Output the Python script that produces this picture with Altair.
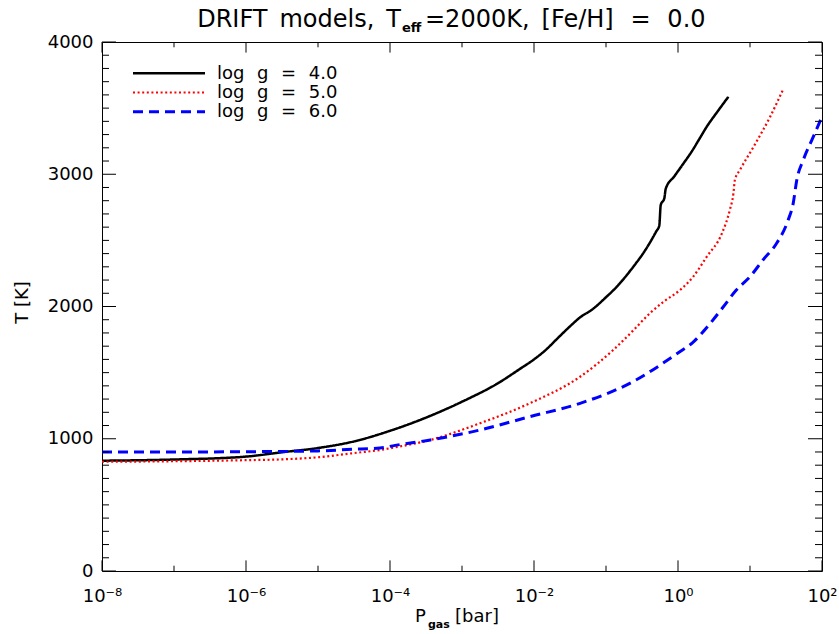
import altair as alt
import pandas as pd

# ---------------- data ----------------
# log10(P_gas / bar) and temperature T [K] for each model
logp_g4 = [-8.0, -7.0, -6.0, -5.5, -5.0, -4.5, -4.0, -3.5, -3.0, -2.5, -2.19, -2.0,
           -1.82, -1.69, -1.5, -1.36, -1.2, -1.0, -0.85, -0.62, -0.45, -0.3, -0.26,
           -0.24, -0.19, -0.17, -0.05, 0.07, 0.2, 0.3, 0.4, 0.55, 0.70]
t_g4 = [834, 843, 865, 898, 930, 980, 1060, 1160, 1280, 1420, 1530, 1600,
        1680, 1750, 1850, 1918, 1974, 2070, 2150, 2301, 2430, 2570, 2611,
        2767, 2818, 2891, 2985, 3077, 3180, 3270, 3360, 3475, 3586]

logp_g5 = [-8.0, -7.0, -6.0, -5.46, -5.0, -4.53, -4.14, -3.93, -3.44, -2.75, -2.06, -1.36,
           -0.90, -0.62, -0.39, -0.20, 0.03, 0.21, 0.40, 0.61, 0.72, 0.77, 0.79,
           0.86, 1.05, 1.28, 1.46]
t_g5 = [826, 830, 838, 845, 860, 890, 915, 935, 991, 1117, 1268, 1469,
        1671, 1820, 1949, 2036, 2125, 2225, 2377, 2553, 2730, 2856, 2957,
        3032, 3208, 3435, 3642]

logp_g6 = [-8.0, -7.0, -6.0, -5.0, -4.53, -4.14, -3.93, -3.44, -2.75, -2.06, -1.36, -0.67,
           0.03, 0.2, 0.35, 0.63, 0.81, 1.00, 1.18, 1.37, 1.53, 1.60, 1.65, 1.74, 1.88, 2.00]
t_g6 = [900, 900, 902, 908, 920, 930, 950, 991, 1066, 1167, 1268, 1419,
        1660, 1725, 1810, 1998, 2125, 2225, 2352, 2478, 2654, 2780, 2957, 3108, 3284, 3435]

sp = "\u2002\u2009"
series_labels = [f"log{sp}g{sp}={sp}4.0", f"log{sp}g{sp}={sp}5.0", f"log{sp}g{sp}={sp}6.0"]
series_colors = ["#000000", "#ff0000", "#0000ff"]
series_dash = [[1, 0], [2, 2.6], [10, 6]]
series_width = [2.5, 2.2, 3.0]
series_interp = ["monotone", "monotone", "monotone"]

y_major = [0, 1000, 2000, 3000, 4000]
y_minor = [v for v in range(0, 4001, 100) if v % 1000]
x_major_exp = [-8, -6, -4, -2, 0, 2]
x_minor_exp = [-7, -5, -3, -1, 1]

title_main = "DRIFT\u2002models,\u2002T"
title_sub = "eff"
title_rest = f"=2000K,\u2002[Fe/H]{sp}={sp}0.0"
xtitle_main = "P"
xtitle_sub = "gas"
xtitle_rest = "[bar]"
ytitle = "T [K]"

# ---------------- layout ----------------
W, H = 720, 529
FONT = "DejaVu Sans"

xscale = alt.Scale(type="log", domain=[1e-8, 1e2], nice=False)
yscale = alt.Scale(domain=[0, 4000], nice=False, zero=False)

sup = {"-": "\u207b", "0": "\u2070", "1": "\u00b9", "2": "\u00b2", "3": "\u00b3",
       "4": "\u2074", "5": "\u2075", "6": "\u2076", "7": "\u2077", "8": "\u2078", "9": "\u2079"}


def sup_text(e):
    return "10" + "".join(sup[c] for c in str(e))


expr = "'" + sup_text(x_major_exp[-1]) + "'"
for e in reversed(x_major_exp[:-1]):
    expr = f"datum.value < {10.0 ** (e + 1)} ? '{sup_text(e)}' : " + expr

xaxis = alt.Axis(values=[10.0 ** e for e in x_major_exp], labelExpr=expr, ticks=False,
                 domain=False, grid=False, labelFont=FONT, labelFontSize=18,
                 labelColor="black", labelPadding=16, title=None, labelFlush=False,
                 labelOverlap=False)
yaxis = alt.Axis(values=y_major, ticks=False, domain=False, grid=False, labelFont=FONT,
                 labelFontSize=18, labelColor="black", labelPadding=9, title=None,
                 format="d")


def X(field):
    return alt.X(field, scale=xscale, axis=xaxis)


def Y(field):
    return alt.Y(field, scale=yscale, axis=yaxis)


def curve_df(lp, t, lab):
    return pd.DataFrame({"P": [10.0 ** v for v in lp], "T": t, "series": lab})


layers = []
curves = [(logp_g4, t_g4), (logp_g5, t_g5), (logp_g6, t_g6)]
for i, (lp, t) in enumerate(curves):
    df = curve_df(lp, t, series_labels[i])
    layers.append(
        alt.Chart(df).mark_line(color=series_colors[i], strokeWidth=series_width[i],
                                strokeDash=series_dash[i], clip=True,
                                interpolate=series_interp[i]).encode(x=X("P:Q"), y=Y("T:Q"))
    )

# inward ticks on all four sides
YMAJ, YMIN = 14, 7
XMAJ, XMIN = 10.6, 5.3
ymaj_df = pd.DataFrame({"v": y_major})
ymin_df = pd.DataFrame({"v": y_minor})
xmaj_df = pd.DataFrame({"P": [10.0 ** e for e in x_major_exp]})
xmin_df = pd.DataFrame({"P": [10.0 ** e for e in x_minor_exp]})
for df, ln in [(ymaj_df, YMAJ), (ymin_df, YMIN)]:
    layers.append(alt.Chart(df).mark_rule(color="black", strokeWidth=1).encode(
        y=Y("v:Q"), x=alt.value(0), x2=alt.value(ln)))
    layers.append(alt.Chart(df).mark_rule(color="black", strokeWidth=1).encode(
        y=Y("v:Q"), x=alt.value(W - ln), x2=alt.value(W)))
for df, ln in [(xmaj_df, XMAJ), (xmin_df, XMIN)]:
    layers.append(alt.Chart(df).mark_rule(color="black", strokeWidth=1).encode(
        x=X("P:Q"), y=alt.value(H), y2=alt.value(H - ln)))
    layers.append(alt.Chart(df).mark_rule(color="black", strokeWidth=1).encode(
        x=X("P:Q"), y=alt.value(0), y2=alt.value(ln)))

# legend
for i, lab in enumerate(series_labels):
    ldf = pd.DataFrame({"label": [lab]})
    layers.append(alt.Chart(ldf).mark_rule(color=series_colors[i], strokeWidth=series_width[i],
                                           strokeDash=series_dash[i]).encode(
        x=alt.value(31), x2=alt.value(103), y=alt.value(31.3 + 19.2 * i)))
    layers.append(alt.Chart(ldf).mark_text(align="left", baseline="alphabetic", font=FONT,
                                           fontSize=18, color="black").encode(
        x=alt.value(115), y=alt.value(37 + 19.2 * i), text="label:N"))


def txt(s, x, y, size, align="left", angle=0, weight="normal"):
    d = pd.DataFrame({"s": [s]})
    kw = dict(align=align, baseline="alphabetic", font=FONT, fontSize=size, color="black",
              fontWeight=weight)
    if angle:
        kw["angle"] = angle
    return alt.Chart(d).mark_text(**kw).encode(x=alt.value(x), y=alt.value(y), text="s:N")


# title with subscript
layers.append(txt(title_main, 299, -15, 24, align="right"))
layers.append(txt(title_sub, 300, -10.5, 13, weight="bold"))
layers.append(txt(title_rest, 323, -15, 24))
# x title with subscript
layers.append(txt(xtitle_main, 313, 580, 18))
layers.append(txt(xtitle_sub, 326, 586, 11, weight="bold"))
layers.append(txt(xtitle_rest, 353, 580, 18))
# y title
layers.append(txt(ytitle, -74, H / 2 - 4, 18, align="center", angle=270))

chart = alt.layer(*layers).properties(
    width=W, height=H,
    autosize=alt.AutoSizeParams(type="none"),
    padding={"left": 102, "top": 42, "right": 17, "bottom": 63},
    background="white",
).configure_view(stroke="black", strokeWidth=1)

chart.save("out.html", embed_options={"renderer": "svg", "actions": False})
